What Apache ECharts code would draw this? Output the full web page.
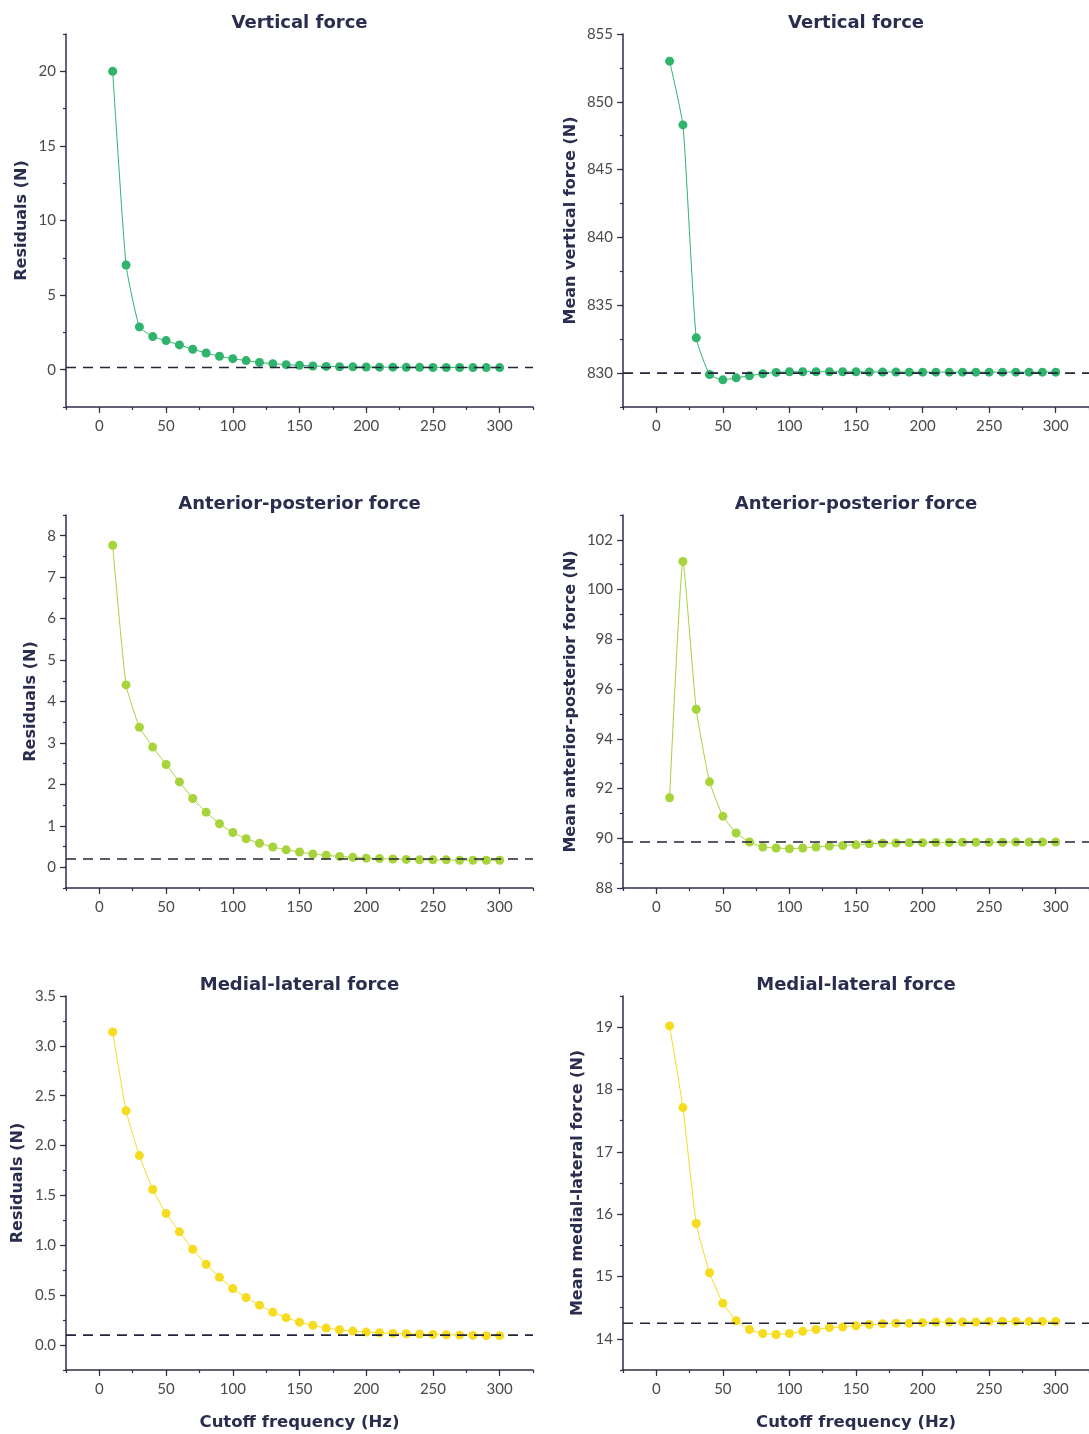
<!DOCTYPE html>
<html>
<head>
<meta charset="utf-8">
<script src="https://cdn.jsdelivr.net/npm/echarts@6/dist/echarts.min.js"></script>
<style>
html,body{margin:0;padding:0;background:#fff;}
#chart{width:1089px;height:1434px;}
</style>
</head>
<body>
<div id="chart"></div>
<script>
// ---------- data ----------
const cutoffHz = [10,20,30,40,50,60,70,80,90,100,110,120,130,140,150,160,170,180,190,200,210,220,230,240,250,260,270,280,290,300];

const vertResidual = [20.0,7.02,2.87,2.22,1.95,1.66,1.37,1.12,0.90,0.74,0.61,0.49,0.40,0.34,0.29,0.25,0.22,0.20,0.19,0.18,0.17,0.17,0.16,0.16,0.15,0.15,0.15,0.14,0.14,0.14];
const vertMean = [853.0,848.3,832.6,829.9,829.5,829.65,829.8,829.95,830.05,830.1,830.1,830.1,830.1,830.1,830.1,830.08,830.08,830.08,830.07,830.07,830.07,830.07,830.07,830.07,830.07,830.07,830.07,830.07,830.07,830.07];
const apResidual = [7.77,4.40,3.38,2.90,2.48,2.06,1.66,1.33,1.05,0.84,0.69,0.58,0.49,0.42,0.37,0.32,0.29,0.26,0.24,0.22,0.21,0.20,0.19,0.18,0.18,0.18,0.17,0.17,0.17,0.17];
const apMean = [91.63,101.13,95.19,92.27,90.89,90.21,89.85,89.65,89.61,89.58,89.61,89.65,89.69,89.71,89.74,89.78,89.80,89.81,89.82,89.82,89.83,89.83,89.84,89.84,89.84,89.84,89.85,89.85,89.85,89.85];
const mlResidual = [3.14,2.35,1.90,1.56,1.32,1.135,0.96,0.81,0.68,0.566,0.476,0.40,0.33,0.275,0.23,0.198,0.17,0.154,0.14,0.13,0.124,0.117,0.114,0.11,0.107,0.104,0.10,0.097,0.094,0.094];
const mlMean = [19.02,17.71,15.85,15.06,14.57,14.29,14.15,14.085,14.07,14.085,14.12,14.15,14.18,14.19,14.21,14.23,14.24,14.25,14.25,14.26,14.27,14.27,14.27,14.27,14.28,14.28,14.28,14.28,14.28,14.28];

// reference (dashed) levels
const refLevels = [0.15, 830.0, 0.2, 89.85, 0.1, 14.25];

// tick labels
const xTickLabels = [0,50,100,150,200,250,300];
const yTicksVertRes = [0,5,10,15,20];
const yTicksVertMean = [830,835,840,845,850,855];
const yTicksApRes = [0,1,2,3,4,5,6,7,8];
const yTicksApMean = [88,90,92,94,96,98,100,102];
const yTicksMlRes = [0,0.5,1.0,1.5,2.0,2.5,3.0,3.5];
const yTicksMlMean = [14,15,16,17,18,19];

const titles = ['Vertical force','Vertical force','Anterior-posterior force','Anterior-posterior force','Medial-lateral force','Medial-lateral force'];
const yNames = ['Residuals (N)','Mean vertical force (N)','Residuals (N)','Mean anterior-posterior force (N)','Residuals (N)','Mean medial-lateral force (N)'];
const xName = 'Cutoff frequency (Hz)';

// ---------- styling / layout ----------
const GREEN = '#2fb36d', LIME = '#a6d43a', YELLOW = '#f6dc1f';
const NAVY = '#2b2d4e', AXIS = '#2e2f48', TICKTXT = '#4a4a4a';
const FONT = 'Lato, "Open Sans", sans-serif';
const BOLDFONT = '"DejaVu Sans", sans-serif';

const panels = [
  {vals: vertResidual, color: GREEN, yMin: -2.5, yMax: 22.5, yStep: 2.5, yTicks: yTicksVertRes, dec: 0, nameGap: 36},
  {vals: vertMean,     color: GREEN, yMin: 827.5, yMax: 855, yStep: 2.5, yTicks: yTicksVertMean, dec: 0, nameGap: 44},
  {vals: apResidual,   color: LIME,  yMin: -0.5, yMax: 8.5, yStep: 0.5, yTicks: yTicksApRes, dec: 0, nameGap: 27},
  {vals: apMean,       color: LIME,  yMin: 88, yMax: 103, yStep: 1, yTicks: yTicksApMean, dec: 0, nameGap: 44},
  {vals: mlResidual,   color: YELLOW,yMin: -0.25, yMax: 3.5, yStep: 0.25, yTicks: yTicksMlRes, dec: 1, nameGap: 40},
  {vals: mlMean,       color: YELLOW,yMin: 13.5, yMax: 19.5, yStep: 0.5, yTicks: yTicksMlMean, dec: 0, nameGap: 37}
];

const colLeft = [66, 623], colWidth = [467, 466];
const rowTop = [34, 515, 996], rowHeight = [373, 373, 374];

const option = {
  animation: false,
  backgroundColor: '#ffffff',
  textStyle: {fontFamily: FONT},
  title: [], grid: [], xAxis: [], yAxis: [], series: []
};

panels.forEach((p, i) => {
  const col = i % 2, row = Math.floor(i / 2);
  const left = colLeft[col], width = colWidth[col], top = rowTop[row], height = rowHeight[row];
  option.grid.push({left: left, top: top, width: width, height: height, containLabel: false});
  option.title.push({
    text: titles[i], left: left + width / 2, top: top - 20, textAlign: 'center', padding: 0,
    textStyle: {fontFamily: BOLDFONT, fontWeight: 'bold', fontSize: 18, color: NAVY}
  });
  const lineStyle = {color: AXIS, width: 1.5};
  const isBottom = row === 2;
  // main x axis (minor ticks + labels)
  option.xAxis.push({
    gridIndex: i, type: 'value', position: 'bottom', min: -25, max: 325, interval: 25,
    axisLine: {show: true, onZero: false, lineStyle: lineStyle},
    axisTick: {show: true, length: 3, lineStyle: {color: AXIS, width: 1.2}},
    axisLabel: {customValues: xTickLabels, margin: 12, fontSize: 15, color: TICKTXT, fontFamily: FONT},
    splitLine: {show: false},
    name: isBottom ? xName : '', nameLocation: 'middle', nameGap: 44,
    nameTextStyle: {fontFamily: BOLDFONT, fontWeight: 'bold', fontSize: 16.5, color: NAVY}
  });
  // overlay x axis (major ticks)
  option.xAxis.push({
    gridIndex: i, type: 'value', position: 'bottom', min: -25, max: 325,
    axisLine: {show: false, onZero: false},
    axisTick: {show: true, customValues: xTickLabels, length: 6, lineStyle: {color: AXIS, width: 1.2}},
    axisLabel: {show: false}, splitLine: {show: false}
  });
  // main y axis
  option.yAxis.push({
    gridIndex: i, type: 'value', position: 'left', min: p.yMin, max: p.yMax, interval: p.yStep,
    axisLine: {show: true, onZero: false, lineStyle: lineStyle},
    axisTick: {show: true, length: 3, lineStyle: {color: AXIS, width: 1.2}},
    axisLabel: {customValues: p.yTicks, margin: 10, fontSize: 15, color: TICKTXT, fontFamily: FONT,
      formatter: (v) => Number(v).toFixed(p.dec)},
    splitLine: {show: false},
    name: yNames[i], nameLocation: 'middle', nameRotate: 90, nameGap: p.nameGap,
    nameTextStyle: {fontFamily: BOLDFONT, fontWeight: 'bold', fontSize: 16, color: NAVY}
  });
  // overlay y axis (major ticks)
  option.yAxis.push({
    gridIndex: i, type: 'value', position: 'left', min: p.yMin, max: p.yMax,
    axisLine: {show: false, onZero: false},
    axisTick: {show: true, customValues: p.yTicks, length: 6, lineStyle: {color: AXIS, width: 1.2}},
    axisLabel: {show: false}, splitLine: {show: false}
  });
  option.series.push({
    type: 'line', xAxisIndex: 2 * i, yAxisIndex: 2 * i,
    data: cutoffHz.map((x, k) => [x, p.vals[k]]),
    smooth: 0.15, symbol: 'circle', symbolSize: 9, showSymbol: true,
    itemStyle: {color: p.color}, lineStyle: {color: p.color, width: 1}, z: 2
  });
  option.series.push({
    type: 'line', xAxisIndex: 2 * i, yAxisIndex: 2 * i,
    data: [[-25, refLevels[i]], [325, refLevels[i]]],
    symbol: 'none', silent: true,
    lineStyle: {color: '#24253a', width: 1.6, type: [10, 7]}, z: 5
  });
});

const chart = echarts.init(document.getElementById('chart'), null, {renderer: 'canvas'});
chart.setOption(option);
</script>
</body>
</html>
